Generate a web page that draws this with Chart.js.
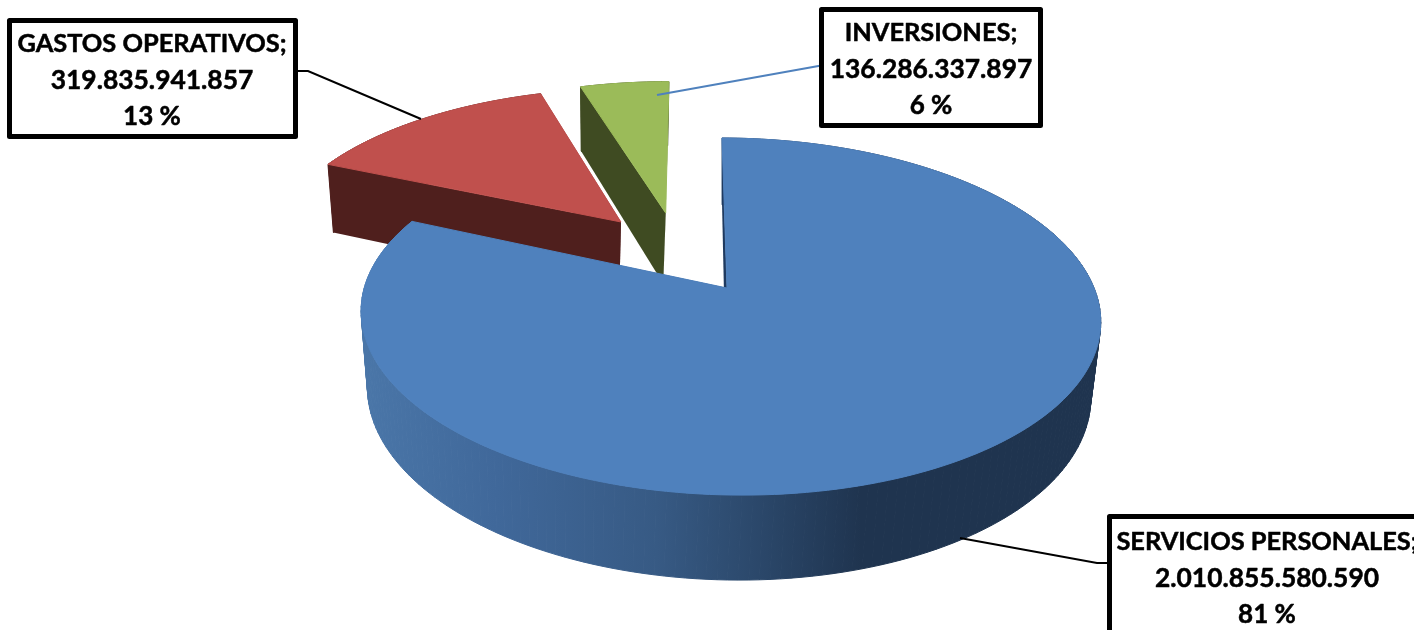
<!DOCTYPE html>
<html>
<head>
<meta charset="utf-8">
<style>
  html, body { margin: 0; padding: 0; background: #fff; overflow: hidden; }
  canvas { display: block; }
</style>
</head>
<body>
<canvas id="chart" width="1414" height="630"></canvas>
<script src="https://cdn.jsdelivr.net/npm/chart.js@4"></script>
<script>
const categories = ["SERVICIOS PERSONALES", "GASTOS OPERATIVOS", "INVERSIONES"];
const values = [2010855580590, 319835941857, 136286337897];
const valueLabels = ["2.010.855.580.590", "319.835.941.857", "136.286.337.897"];
const percentLabels = ["81 %", "13 %", "6 %"];

const topColors = ["#4f81bd", "#c0504d", "#9bbb59"];
const wallColors = ["#1f3a5f", "#4f1f1d", "#3f4b22"];

// how far each slice is pulled out, in radius units on the pie plane
const explode = [[0, 0], [-0.303, -0.404], [-0.173, -0.463]];

// plane -> screen, top face and bottom face of the pie
const faces = [
  { cx: 727, sx: 365, sh: 5.8, cy: 288, dy: 128, g: -0.1597 },
  { cx: 725.5, sx: 357, sh: 4, cy: 362.5, dy: 124.9, g: -0.1597 },
];
// small per slice corrections of the projection: side tilt, bottom face shift,
// and start/end angle nudge (radians) for the two pulled out slices
const tilt = [-0.008, 0, 0];
const bottomShift = [0, -3, -3];
const angleNudge = [[0, 0], [0, 0.046], [0.046, 0]];

function project(p, z, i) {
  const f = faces[z];
  const w = 1 + f.g * p[1] + tilt[i] * p[0];
  const shift = z ? bottomShift[i] : 0;
  return [f.cx + shift + (f.sx * p[0] + f.sh * p[1]) / w, (f.cy + f.dy * p[1]) / w];
}

function arcPoints(arc, i) {
  const pts = [];
  const start = arc.startAngle + angleNudge[i][0];
  const end = arc.endAngle + angleNudge[i][1];
  const steps = Math.max(8, Math.round((end - start) * 40));
  for (let s = 0; s <= steps; s++) {
    const a = start + (end - start) * s / steps;
    pts.push([Math.cos(a) + explode[i][0], Math.sin(a) + explode[i][1]]);
  }
  return pts;
}

function fillPoly(ctx, pts, color, seal) {
  ctx.beginPath();
  pts.forEach((p, k) => (k ? ctx.lineTo(p[0], p[1]) : ctx.moveTo(p[0], p[1])));
  ctx.closePath();
  ctx.fillStyle = color;
  ctx.fill();
  if (seal) {
    // hides the hairlines between neighbouring quads
    ctx.strokeStyle = color;
    ctx.lineWidth = 1;
    ctx.stroke();
  }
}

function drawSlice(ctx, arc, i) {
  const rim = arcPoints(arc, i);
  const apex = explode[i];
  const first = rim[0];
  const last = rim[rim.length - 1];

  let wallFill = wallColors[i];
  if (i === 0) {
    // the big slice is shaded along its rim
    const g = ctx.createLinearGradient(365, 0, 1095, 0);
    g.addColorStop(0, "#4a76a8");
    g.addColorStop(0.18, "#40689a");
    g.addColorStop(0.4, "#375a84");
    g.addColorStop(0.55, "#2a4668");
    g.addColorStop(0.68, "#1f344f");
    g.addColorStop(1, "#1f344f");
    wallFill = g;
  }

  // walls first, the top face covers whatever faces away
  fillPoly(ctx, [project(apex, 0, i), project(last, 0, i), project(last, 1, i), project(apex, 1, i)], wallColors[i]);
  for (let k = 0; k < rim.length - 1; k++) {
    fillPoly(ctx, [project(rim[k], 0, i), project(rim[k + 1], 0, i), project(rim[k + 1], 1, i), project(rim[k], 1, i)], wallFill, true);
  }
  fillPoly(ctx, [project(apex, 0, i), project(first, 0, i), project(first, 1, i), project(apex, 1, i)], wallColors[i]);

  fillPoly(ctx, [project(apex, 0, i)].concat(rim.map(p => project(p, 0, i))), topColors[i], true);
}

// callout boxes and leader lines
const boxes = [
  { x: 1109.5, y: 516.5, w: 330, h: 200, tx: 1267, ty: 542 },
  { x: 9.5, y: 20.5, w: 286, h: 116, tx: 152, ty: 44 },
  { x: 821.5, y: 9.5, w: 219, h: 116, tx: 931, ty: 33 },
];
const leaders = [
  { color: "#000", width: 2, pts: [[1109, 563], [1097, 563], [960, 538]] },
  { color: "#000", width: 2, pts: [[298, 71], [308, 71], [421, 119]] },
  { color: "#4f81bd", width: 2, pts: [[824, 65], [657, 95]] },
];

function boldText(ctx, text, x, y, size) {
  ctx.font = "bold " + size + "px Lato";
  ctx.lineWidth = 0.5;
  ctx.strokeStyle = "#000";
  ctx.fillText(text, x, y);
  ctx.strokeText(text, x, y);
}

const pie3d = {
  id: "pie3d",
  beforeDatasetDraw(chart) {
    const ctx = chart.ctx;
    const arcs = chart.getDatasetMeta(0).data;
    ctx.save();
    // back slices first, the big one overlaps them
    [1, 2, 0].forEach(i => drawSlice(ctx, arcs[i], i));
    ctx.restore();
    return false;
  },
  afterDatasetsDraw(chart) {
    const ctx = chart.ctx;
    ctx.save();
    leaders.forEach(l => {
      ctx.beginPath();
      l.pts.forEach((p, k) => (k ? ctx.lineTo(p[0], p[1]) : ctx.moveTo(p[0], p[1])));
      ctx.strokeStyle = l.color;
      ctx.lineWidth = l.width;
      ctx.stroke();
    });
    boxes.forEach((b, i) => {
      ctx.fillStyle = "#fff";
      ctx.fillRect(b.x, b.y, b.w, b.h);
      ctx.strokeStyle = "#000";
      ctx.lineWidth = 5;
      ctx.lineJoin = "round";
      ctx.strokeRect(b.x, b.y, b.w, b.h);
      ctx.fillStyle = "#000";
      ctx.textAlign = "center";
      ctx.textBaseline = "middle";
      boldText(ctx, categories[i] + ";", b.tx, b.ty, 25.4);
      boldText(ctx, valueLabels[i], b.tx, b.ty + 36.5, 26.4);
      boldText(ctx, percentLabels[i], b.tx, b.ty + 73, 26);
    });
    ctx.restore();
  },
};

new Chart(document.getElementById("chart"), {
  type: "pie",
  data: {
    labels: categories,
    datasets: [{ data: values, backgroundColor: topColors, borderWidth: 0 }],
  },
  options: {
    responsive: false,
    animation: false,
    plugins: { legend: { display: false }, tooltip: { enabled: false } },
  },
  plugins: [pie3d],
});
</script>
</body>
</html>
